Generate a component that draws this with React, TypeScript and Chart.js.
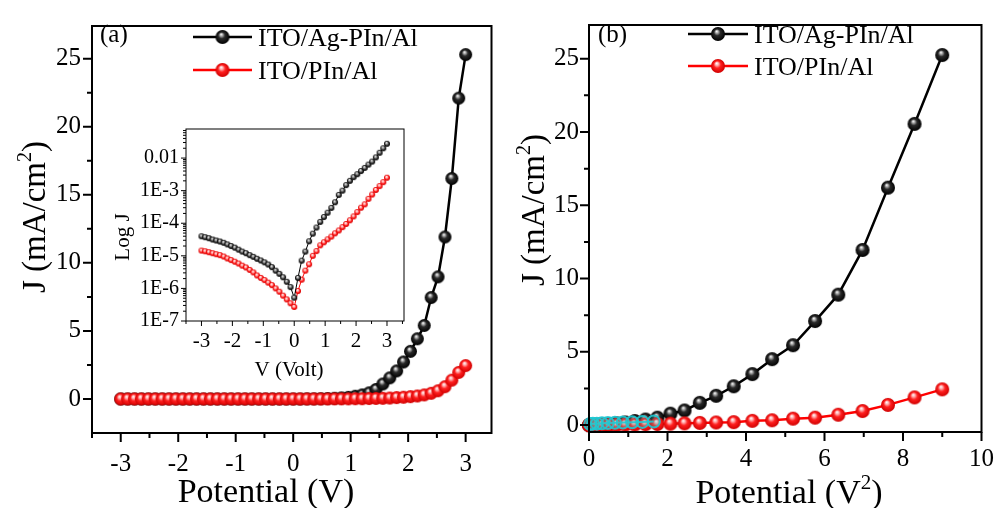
import React, { useEffect, useRef } from 'react';
import { Chart, registerables } from 'chart.js';
Chart.register(...registerables);

const FONT = "'Liberation Serif', 'Times New Roman', serif";

const SERIES_NAMES = ['ITO/Ag-PIn/Al', 'ITO/PIn/Al'];

// Voltage grid (V) for panel (a) and inset
const V_GRID = [-3, -2.88, -2.76, -2.64, -2.52, -2.4, -2.28, -2.16, -2.04, -1.92, -1.8, -1.68, -1.56, -1.44, -1.32, -1.2, -1.08, -0.96, -0.84, -0.72, -0.6, -0.48, -0.36, -0.24, -0.12, 0, 0.12, 0.24, 0.36, 0.48, 0.6, 0.72, 0.84, 0.96, 1.08, 1.2, 1.32, 1.44, 1.56, 1.68, 1.8, 1.92, 2.04, 2.16, 2.28, 2.4, 2.52, 2.64, 2.76, 2.88, 3];

// Panel (a): J (mA/cm2)
const A_BLACK = [0, 0, 0, 0, 0, 0, 0, 0, 0, 0, 0, 0, 0, 0, 0, 0, 0, 0, 0, 0, 0, 0, 0, 0, 0, 0, 0, 0.01, 0.01, 0.02, 0.03, 0.05, 0.08, 0.12, 0.2, 0.3, 0.45, 0.7, 1.1, 1.55, 2.06, 2.72, 3.5, 4.42, 5.4, 7.45, 8.97, 11.9, 16.2, 22.1, 25.3];
const A_RED = [0, 0, 0, 0, 0, 0, 0, 0, 0, 0, 0, 0, 0, 0, 0, 0, 0, 0, 0, 0, 0, 0, 0, 0, 0, 0, 0, 0, 0, 0, 0, 0.01, 0.01, 0.01, 0.02, 0.02, 0.03, 0.04, 0.05, 0.07, 0.1, 0.13, 0.17, 0.22, 0.3, 0.42, 0.6, 0.9, 1.38, 1.95, 2.45];

// Inset: Log J
const INSET_BLACK = [3.98e-5, 3.72e-5, 3.47e-5, 3.16e-5, 2.95e-5, 2.75e-5, 2.51e-5, 2.24e-5, 2.0e-5, 1.78e-5, 1.55e-5, 1.35e-5, 1.2e-5, 1.05e-5, 9.3e-6, 8.1e-6, 7.2e-6, 6.3e-6, 5.4e-6, 4.5e-6, 3.5e-6, 2.8e-6, 2.2e-6, 1.6e-6, 1.1e-6, 5.2e-7, 2.1e-6, 7.1e-6, 1.35e-5, 2.8e-5, 4.8e-5, 7.4e-5, 1.1e-4, 1.55e-4, 2.1e-4, 2.95e-4, 4.4e-4, 7.4e-4, 1.0e-3, 1.48e-3, 2.0e-3, 2.6e-3, 3.2e-3, 4.0e-3, 5.0e-3, 6.3e-3, 7.8e-3, 1.05e-2, 1.45e-2, 2.0e-2, 2.75e-2];
const INSET_RED = [1.45e-5, 1.38e-5, 1.29e-5, 1.2e-5, 1.12e-5, 1.05e-5, 9.5e-6, 8.3e-6, 7.4e-6, 6.6e-6, 5.8e-6, 5.0e-6, 4.4e-6, 3.7e-6, 3.1e-6, 2.5e-6, 2.1e-6, 1.8e-6, 1.5e-6, 1.26e-6, 1.0e-6, 7.9e-7, 6.0e-7, 4.6e-7, 3.5e-7, 2.7e-7, 8.3e-7, 1.86e-6, 3.5e-6, 5.5e-6, 1.0e-5, 1.4e-5, 2.1e-5, 2.6e-5, 3.2e-5, 3.9e-5, 4.9e-5, 6.0e-5, 7.6e-5, 9.5e-5, 1.23e-4, 1.62e-4, 2.2e-4, 3.0e-4, 3.8e-4, 5.6e-4, 7.6e-4, 1.05e-3, 1.38e-3, 1.82e-3, 2.5e-3];

// Panel (b): x = V^2
const B_X = [0, 0.0144, 0.0576, 0.1296, 0.2304, 0.36, 0.5184, 0.7056, 0.9216, 1.1664, 1.44, 1.7424, 2.0736, 2.4336, 2.8224, 3.24, 3.6864, 4.1616, 4.6656, 5.1984, 5.76, 6.3504, 6.9696, 7.6176, 8.2944, 9];
const B_BLACK = [0, 0, 0.01, 0.02, 0.03, 0.05, 0.08, 0.12, 0.18, 0.28, 0.38, 0.51, 0.78, 1.0, 1.52, 2.0, 2.65, 3.48, 4.5, 5.45, 7.1, 8.9, 11.95, 16.2, 20.55, 25.25];
const B_RED = [0, 0, 0, 0, 0.01, 0.01, 0.02, 0.02, 0.03, 0.04, 0.06, 0.08, 0.1, 0.12, 0.15, 0.18, 0.2, 0.29, 0.33, 0.44, 0.51, 0.71, 0.96, 1.38, 1.89, 2.44];
const B_CYAN_X = [0.03, 0.1, 0.2, 0.33, 0.48, 0.66, 0.86, 1.1, 1.36, 1.65];
const B_CYAN_Y = [0.08, 0.1, 0.1, 0.12, 0.14, 0.16, 0.18, 0.2, 0.22, 0.25];

// Ticks
const A_X_MAJOR = [-3, -2, -1, 0, 1, 2, 3];
const A_X_MINOR = [-3.5, -2.5, -1.5, -0.5, 0.5, 1.5, 2.5];
const A_Y_MAJOR = [0, 5, 10, 15, 20, 25];
const A_Y_MINOR = [-2.5, 2.5, 7.5, 12.5, 17.5, 22.5];
const B_X_MAJOR = [0, 2, 4, 6, 8, 10];
const B_X_MINOR = [1, 3, 5, 7, 9];
const B_Y_MAJOR = [0, 5, 10, 15, 20, 25];
const B_Y_MINOR = [2.5, 7.5, 12.5, 17.5, 22.5];
const IN_X_MAJOR = [-3, -2, -1, 0, 1, 2, 3];
const IN_X_MINOR = [-3.5, -2.5, -1.5, -0.5, 0.5, 1.5, 2.5, 3.5];
const IN_Y_MAJOR = [1e-7, 1e-6, 1e-5, 1e-4, 1e-3, 1e-2];
const IN_Y_MINOR_MULT = [2, 3, 4, 5, 6, 7, 8, 9];

function sphere(d: number, stops: [number, string][]) {
  const c = document.createElement('canvas');
  const s = Math.ceil(d) + 2;
  c.width = s;
  c.height = s;
  const ctx = c.getContext('2d')!;
  const r = d / 2;
  const cx = s / 2;
  const cy = s / 2;
  const g = ctx.createRadialGradient(cx - r * 0.2, cy - r * 0.4, r * 0.02, cx, cy, r);
  stops.forEach(([o, col]) => g.addColorStop(o, col));
  ctx.fillStyle = g;
  ctx.beginPath();
  ctx.arc(cx, cy, r, 0, Math.PI * 2);
  ctx.fill();
  return c;
}

const BLACK_STOPS: [number, string][] = [[0, '#ffffff'], [0.18, '#b0b0b0'], [0.45, '#2a2a2a'], [1, '#000000']];
const RED_STOPS: [number, string][] = [[0, '#ffffff'], [0.22, '#ffb0b0'], [0.5, '#ff2020'], [1, '#d00000']];

function drawSup(ctx: CanvasRenderingContext2D, parts: [string, boolean][], size: number) {
  const big = `${size}px ${FONT}`;
  const small = `${Math.round(size * 0.62)}px ${FONT}`;
  let total = 0;
  const widths = parts.map(([t, sup]) => {
    ctx.font = sup ? small : big;
    const w = ctx.measureText(t).width;
    total += w;
    return w;
  });
  let x = -total / 2;
  parts.forEach(([t, sup], i) => {
    ctx.font = sup ? small : big;
    ctx.fillText(t, x, sup ? -size * 0.42 : 0);
    x += widths[i];
  });
}

type Cfg = {
  xMajor: number[];
  xMinor: number[];
  yMajor: number[];
  yMinor: number[];
  majorLen: number;
  minorLen: number;
  lw: number;
  frameLw: number;
  legend?: { x1: number; x2: number; textX: number; rows: { y: number; img: HTMLCanvasElement; color: string; text: string }[]; size: number };
  label?: { text: string; x: number; y: number; size: number };
  xTitle: { parts: [string, boolean][]; x: number; y: number; size: number };
  yTitle: { parts: [string, boolean][]; x: number; y: number; size: number };
};

function makePlugin(cfg: Cfg) {
  return {
    id: 'decor',
    afterDraw(chart: any) {
      const ctx: CanvasRenderingContext2D = chart.ctx;
      const a = chart.chartArea;
      const xs = chart.scales.x;
      const ys = chart.scales.y;
      ctx.save();
      ctx.strokeStyle = '#000';
      ctx.lineWidth = cfg.lw;
      ctx.lineCap = 'butt';
      const inX = (v: number) => v >= xs.min - 1e-9 && v <= xs.max + 1e-9;
      const inY = (v: number) => v >= ys.min * (1 - 1e-9) && v <= ys.max + 1e-9;
      ctx.beginPath();
      cfg.xMajor.filter(inX).forEach((v) => {
        const p = xs.getPixelForValue(v);
        ctx.moveTo(p, a.bottom);
        ctx.lineTo(p, a.bottom + cfg.majorLen);
      });
      cfg.xMinor.filter(inX).forEach((v) => {
        const p = xs.getPixelForValue(v);
        ctx.moveTo(p, a.bottom);
        ctx.lineTo(p, a.bottom + cfg.minorLen);
      });
      cfg.yMajor.filter(inY).forEach((v) => {
        const p = ys.getPixelForValue(v);
        ctx.moveTo(a.left, p);
        ctx.lineTo(a.left - cfg.majorLen, p);
      });
      cfg.yMinor.filter(inY).forEach((v) => {
        const p = ys.getPixelForValue(v);
        ctx.moveTo(a.left, p);
        ctx.lineTo(a.left - cfg.minorLen, p);
      });
      ctx.stroke();
      ctx.lineWidth = cfg.frameLw;
      ctx.strokeRect(a.left, a.top, a.right - a.left, a.bottom - a.top);

      ctx.fillStyle = '#000';
      if (cfg.legend) {
        const L = cfg.legend;
        L.rows.forEach((r) => {
          ctx.strokeStyle = r.color;
          ctx.lineWidth = 2.5;
          ctx.beginPath();
          ctx.moveTo(L.x1, r.y);
          ctx.lineTo(L.x2, r.y);
          ctx.stroke();
          ctx.drawImage(r.img, (L.x1 + L.x2) / 2 - r.img.width / 2, r.y - r.img.height / 2);
          ctx.fillStyle = '#000';
          ctx.font = `${L.size}px ${FONT}`;
          ctx.textAlign = 'left';
          ctx.textBaseline = 'alphabetic';
          ctx.fillText(r.text, L.textX, r.y + L.size * 0.33);
        });
      }
      if (cfg.label) {
        ctx.font = `${cfg.label.size}px ${FONT}`;
        ctx.textAlign = 'left';
        ctx.textBaseline = 'alphabetic';
        ctx.fillText(cfg.label.text, cfg.label.x, cfg.label.y);
      }
      ctx.textAlign = 'left';
      ctx.textBaseline = 'alphabetic';
      ctx.save();
      ctx.translate(cfg.xTitle.x, cfg.xTitle.y);
      drawSup(ctx, cfg.xTitle.parts, cfg.xTitle.size);
      ctx.restore();
      ctx.save();
      ctx.translate(cfg.yTitle.x, cfg.yTitle.y);
      ctx.rotate(-Math.PI / 2);
      drawSup(ctx, cfg.yTitle.parts, cfg.yTitle.size);
      ctx.restore();
      ctx.restore();
    },
  };
}

function pts(xs: number[], ys: number[]) {
  return xs.map((x, i) => ({ x, y: ys[i] }));
}

function linScale(min: number, max: number, major: number[], fit: (s: any) => void, size: number, pad: number) {
  return {
    type: 'linear',
    min,
    max,
    afterBuildTicks: (s: any) => {
      s.ticks = major.map((v) => ({ value: v }));
    },
    afterFit: fit,
    grid: { display: false, drawTicks: false },
    border: { display: false },
    ticks: { autoSkip: false, maxRotation: 0, color: '#000', font: { family: FONT, size }, padding: pad },
  };
}

export default function App() {
  const refA = useRef<HTMLCanvasElement>(null);
  const refB = useRef<HTMLCanvasElement>(null);
  const refI = useRef<HTMLCanvasElement>(null);

  useEffect(() => {
    document.body.style.margin = '0';
    const blackA = sphere(13, BLACK_STOPS);
    const redA = sphere(13, RED_STOPS);
    const blackB = sphere(14, BLACK_STOPS);
    const redB = sphere(14, RED_STOPS);
    const blackI = sphere(6, [[0, '#ffffff'], [0.35, '#999999'], [0.7, '#222222'], [1, '#000000']]);
    const redI = sphere(6, [[0, '#ffffff'], [0.35, '#ffaaaa'], [0.7, '#ff1010'], [1, '#d00000']]);
    const legBlack = sphere(14, BLACK_STOPS);
    const legRed = sphere(14, RED_STOPS);

    const common = {
      animation: false,
      responsive: false,
      events: [],
      plugins: { legend: { display: false }, tooltip: { enabled: false } },
    };

    const chartA = new Chart(refA.current!, {
      type: 'scatter',
      data: {
        datasets: [
          { label: SERIES_NAMES[0], data: pts(V_GRID, A_BLACK), showLine: true, borderColor: '#000', borderWidth: 2.5, pointStyle: blackA, pointRadius: 6, order: 2, clip: false },
          { label: SERIES_NAMES[1], data: pts(V_GRID, A_RED), showLine: true, borderColor: '#f00', borderWidth: 2.5, pointStyle: redA, pointRadius: 6, order: 1, clip: false },
        ],
      },
      options: {
        ...common,
        layout: { padding: { left: 0, top: 13, right: 7, bottom: 0 } },
        scales: {
          x: linScale(-3.5, 3.45, A_X_MAJOR, (s: any) => { s.height = 75; }, 25, 16),
          y: linScale(-2.5, 27.4, A_Y_MAJOR, (s: any) => { s.width = 92; }, 25, 11),
        },
      },
      plugins: [
        makePlugin({
          xMajor: A_X_MAJOR, xMinor: A_X_MINOR, yMajor: A_Y_MAJOR, yMinor: A_Y_MINOR,
          majorLen: 9, minorLen: 5, lw: 2, frameLw: 2,
          legend: {
            x1: 193, x2: 252, textX: 258, size: 26,
            rows: [
              { y: 37, img: legBlack, color: '#000', text: SERIES_NAMES[0] },
              { y: 70, img: legRed, color: '#f00', text: SERIES_NAMES[1] },
            ],
          },
          label: { text: '(a)', x: 100, y: 42, size: 25 },
          xTitle: { parts: [['Potential (V)', false]], x: 266, y: 502, size: 34 },
          yTitle: { parts: [['J (mA/cm', false], ['2', true], [')', false]], x: 45, y: 217, size: 33 },
        }) as any,
      ],
    } as any);

    const chartB = new Chart(refB.current!, {
      type: 'scatter',
      data: {
        datasets: [
          { label: 'cyan', data: pts(B_CYAN_X, B_CYAN_Y), showLine: true, borderColor: 'rgba(30,200,210,0.9)', borderWidth: 2, pointStyle: 'circle', pointRadius: 6, pointBorderWidth: 2, pointBorderColor: 'rgba(30,200,210,0.9)', pointBackgroundColor: 'rgba(60,200,200,0.25)', order: 0, clip: false },
          { label: SERIES_NAMES[0], data: pts(B_X, B_BLACK), showLine: true, borderColor: '#000', borderWidth: 2.5, pointStyle: blackB, pointRadius: 7, order: 2, clip: false },
          { label: SERIES_NAMES[1], data: pts(B_X, B_RED), showLine: true, borderColor: '#f00', borderWidth: 2.5, pointStyle: redB, pointRadius: 7, order: 1, clip: false },
        ],
      },
      options: {
        ...common,
        layout: { padding: { left: 0, top: 14, right: 13, bottom: 0 } },
        scales: {
          x: linScale(0, 10, B_X_MAJOR, (s: any) => { s.height = 76; }, 25, 12),
          y: linScale(-0.47, 27.3, B_Y_MAJOR, (s: any) => { s.width = 89; }, 25, 10),
        },
      },
      plugins: [
        makePlugin({
          xMajor: B_X_MAJOR, xMinor: B_X_MINOR, yMajor: B_Y_MAJOR, yMinor: B_Y_MINOR,
          majorLen: 9, minorLen: 5, lw: 2, frameLw: 2,
          legend: {
            x1: 188, x2: 248, textX: 254, size: 26,
            rows: [
              { y: 34, img: legBlack, color: '#000', text: SERIES_NAMES[0] },
              { y: 66, img: legRed, color: '#f00', text: SERIES_NAMES[1] },
            ],
          },
          label: { text: '(b)', x: 98, y: 42, size: 25 },
          xTitle: { parts: [['Potential (V', false], ['2', true], [')', false]], x: 289, y: 503, size: 34 },
          yTitle: { parts: [['J (mA/cm', false], ['2', true], [')', false]], x: 44, y: 210, size: 33 },
        }) as any,
      ],
    } as any);

    const chartI = new Chart(refI.current!, {
      type: 'scatter',
      data: {
        datasets: [
          { label: SERIES_NAMES[0], data: pts(V_GRID, INSET_BLACK), showLine: true, borderColor: '#000', borderWidth: 1, pointStyle: blackI, pointRadius: 3, order: 1, clip: false },
          { label: SERIES_NAMES[1], data: pts(V_GRID, INSET_RED), showLine: true, borderColor: '#f00', borderWidth: 1, pointStyle: redI, pointRadius: 3, order: 2, clip: false },
        ],
      },
      options: {
        ...common,
        layout: { padding: { left: 0, top: 13, right: 6, bottom: 0 } },
        scales: {
          x: linScale(-3.5, 3.55, IN_X_MAJOR, (s: any) => { s.height = 69; }, 21, 8),
          y: {
            type: 'logarithmic',
            min: 1e-7,
            max: 0.078,
            afterBuildTicks: (s: any) => {
              s.ticks = IN_Y_MAJOR.map((v) => ({ value: v }));
            },
            afterFit: (s: any) => { s.width = 86; },
            grid: { display: false, drawTicks: false },
            border: { display: false },
            ticks: {
              autoSkip: false,
              color: '#000',
              font: { family: FONT, size: 20 },
              padding: 7,
              callback: (v: number) => {
                const e = Math.round(Math.log10(v));
                return e === -2 ? '0.01' : `1E${e}`;
              },
            },
          },
        },
      },
      plugins: [
        makePlugin({
          xMajor: IN_X_MAJOR, xMinor: IN_X_MINOR,
          yMajor: IN_Y_MAJOR,
          yMinor: IN_Y_MAJOR.flatMap((p) => IN_Y_MINOR_MULT.map((m) => m * p)),
          majorLen: 5, minorLen: 3, lw: 1, frameLw: 1,
          xTitle: { parts: [['V (Volt)', false]], x: 189, y: 266, size: 21 },
          yTitle: { parts: [['Log J', false]], x: 29, y: 127, size: 21 },
        }) as any,
      ],
    } as any);

    return () => {
      chartA.destroy();
      chartB.destroy();
      chartI.destroy();
    };
  }, []);

  return (
    <div style={{ position: 'relative', width: 1006, height: 508, background: '#fff', overflow: 'hidden' }}>
      <canvas ref={refA} width={500} height={508} style={{ position: 'absolute', left: 0, top: 0 }} />
      <canvas ref={refB} width={506} height={508} style={{ position: 'absolute', left: 500, top: 0 }} />
      <canvas ref={refI} width={310} height={280} style={{ position: 'absolute', left: 100, top: 110 }} />
    </div>
  );
}
